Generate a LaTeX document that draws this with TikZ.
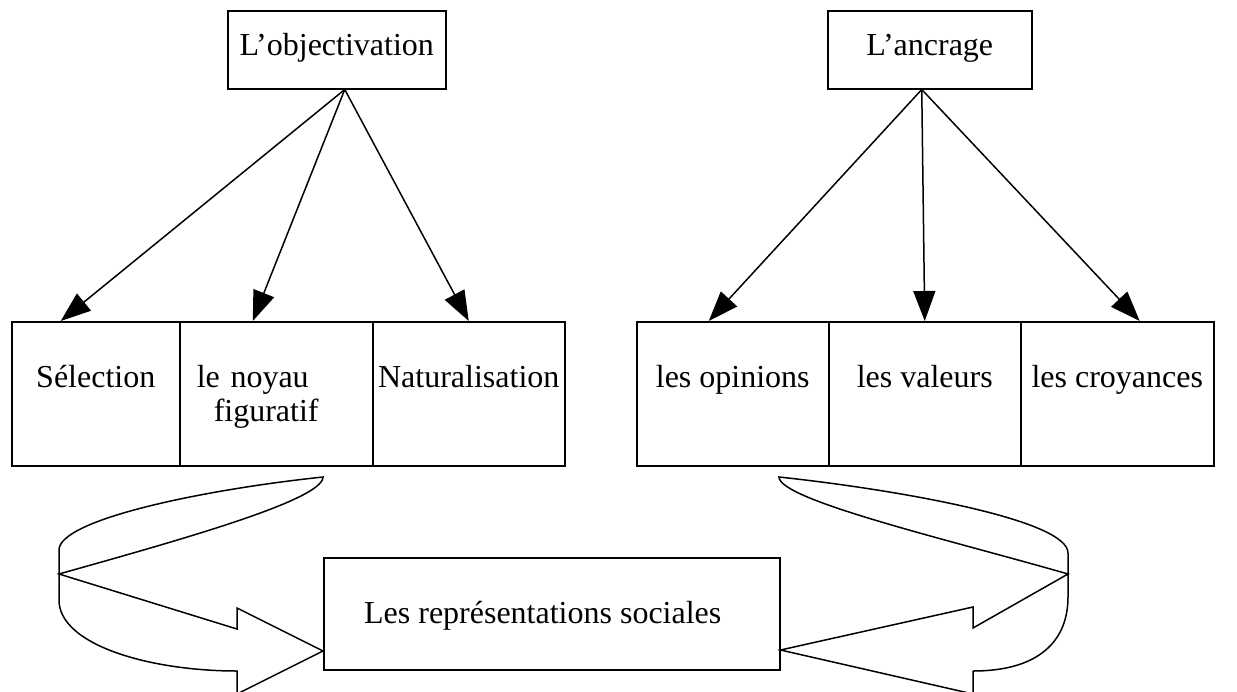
\documentclass[tikz,border=0pt]{standalone}
\usepackage{fontspec}
\setmainfont{Liberation Serif}
\usetikzlibrary{arrows.meta}

\begin{document}
\begin{tikzpicture}[
        x=0.5pt, y=-0.5pt,
        line width=0.75pt,
        font=\fontsize{16}{17}\selectfont,
        every node/.style={draw, inner sep=0pt, anchor=north west},
        cell/.style={minimum width=#1, minimum height=72pt, text height=6pt, text depth=12pt},
        >={Triangle[length=15pt, width=11pt]}
    ]

    \useasboundingbox (0,0) rectangle (1237,691);

    \node (objv) [minimum width=109pt, minimum height=39pt, text height=7pt, text depth=1pt] at (227,10) {L’objectivation};
    \node (anc) [minimum width=102pt, minimum height=39pt, text height=7pt, text depth=1pt] at (827,10) {L’ancrage};

    \node (sel) [cell=84pt] at (11,321) {Sélection};
    \node (noyau) [cell=96.5pt, text width=79.5pt, inner xsep=8.5pt, align=left] at (179,321) {le noyau\\\hspace*{8.5pt}figuratif};
    \node (nat) [cell=96pt] at (372,321) {Naturalisation};

    \node (opin) [cell=96pt] at (636,321) {les opinions};
    \node (val) [cell=96pt] at (828,321) {les valeurs};
    \node (croy) [cell=96.5pt] at (1020,321) {les croyances};

    \node (rs) [minimum width=228pt, minimum height=56pt, text height=12pt, text depth=2pt] at (323,557) {Les représentations sociales\hspace*{9pt}};

    \draw[->] ([xshift=4pt]objv.south) -- ([xshift=-17.5pt]sel.north);
    \draw[->] ([xshift=4pt]objv.south) -- ([xshift=-11.75pt]noyau.north);
    \draw[->] ([xshift=4pt]objv.south) -- (nat.north);

    \draw[->] ([xshift=-4pt]anc.south) -- ([xshift=-12pt]opin.north);
    \draw[->] ([xshift=-4pt]anc.south) -- (val.north);
    \draw[->] ([xshift=-4pt]anc.south) -- ([xshift=11.25pt]croy.north);

    % curved block arrows
    \draw (323,477) .. controls (200,490) and (59,520) .. (59,550) -- (59,600)
        .. controls (59,645) and (150,671) .. (237,671) -- (237,694) -- (rs.west |- 0,651)
        -- (237,608) -- (237,629) -- (59,574) .. controls (180,540) and (323,500) .. cycle;
    \draw (779,477) .. controls (900,490) and (1068,520) .. (1068,553) -- (1068,597)
        .. controls (1068,640) and (1040,671) .. (973,671) -- (973,694) -- (rs.east |- 0,650)
        -- (973,607) -- (973,628) -- (1068,574) .. controls (950,540) and (779,500) .. cycle;

\end{tikzpicture}
\end{document}
